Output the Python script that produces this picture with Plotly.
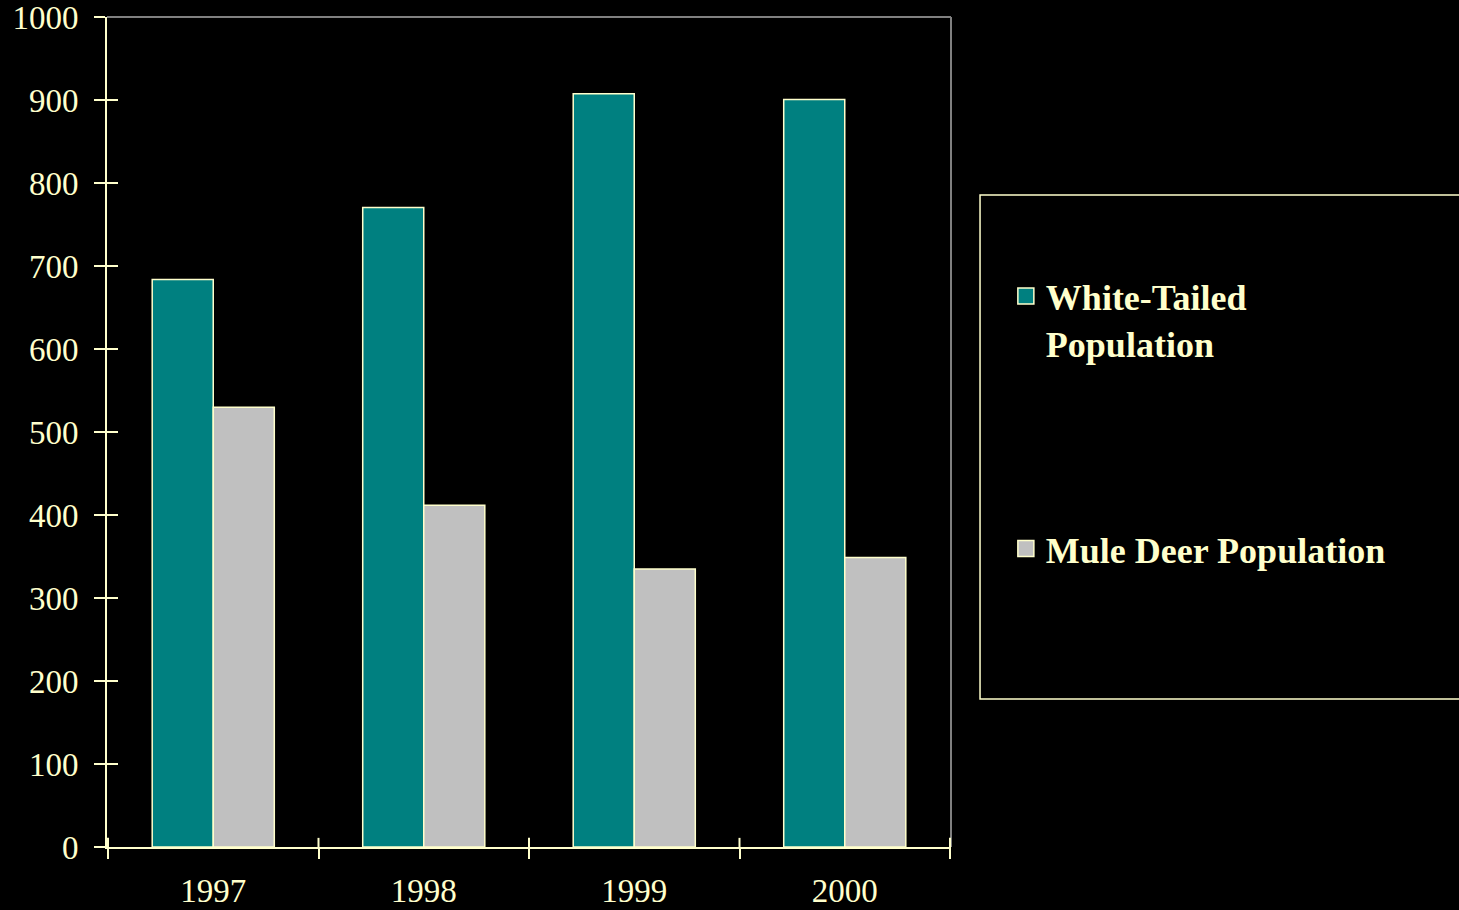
import plotly.graph_objects as go

years = ["1997", "1998", "1999", "2000"]
white_tailed = [684, 771, 908, 901]
mule_deer = [530, 412, 335, 349]
y_ticks = [0, 100, 200, 300, 400, 500, 600, 700, 800, 900, 1000]

CREAM = "#FFFFCC"
TEAL = "#008080"
SILVER = "#C0C0C0"
FONT = "Liberation Serif, Times New Roman, serif"

fig = go.Figure()
fig.add_trace(go.Bar(x=years, y=white_tailed, name="White-Tailed Population",
                     marker=dict(color=TEAL, line=dict(color=CREAM, width=1.5)),
                     legendgroup="a", showlegend=False))
fig.add_trace(go.Bar(x=years, y=mule_deer, name="Mule Deer Population",
                     marker=dict(color=SILVER, line=dict(color=CREAM, width=1.5)),
                     legendgroup="b", showlegend=False))
# legend entries (large square swatches)
fig.add_trace(go.Scatter(x=[None], y=[None], mode="markers", name="White-Tailed<br>Population",
                         marker=dict(symbol="square", size=22, color=TEAL, line=dict(color=CREAM, width=1.5)),
                         legendgroup="a"))
fig.add_trace(go.Scatter(x=[None], y=[None], mode="markers", name="Mule Deer Population",
                         marker=dict(symbol="square", size=22, color=SILVER, line=dict(color=CREAM, width=1.5)),
                         legendgroup="b"))
# invisible trace for inner tick marks on y axis
fig.add_trace(go.Scatter(x=[None], y=[None], yaxis="y2", showlegend=False))

fig.update_layout(
    width=1459, height=910,
    paper_bgcolor="black", plot_bgcolor="black",
    margin=dict(l=107, r=508, t=17, b=63, autoexpand=False),
    barmode="group", bargap=0.42, bargroupgap=0,
    font=dict(family=FONT, color=CREAM, size=33),
    xaxis=dict(
        type="category", showgrid=False, zeroline=False, automargin=False,
        showline=True, linecolor=CREAM, linewidth=2,
        ticks="outside", tickson="boundaries", ticklen=10, tickwidth=2, tickcolor=CREAM,
        tickfont=dict(family=FONT, color=CREAM, size=33),
        ticklabelstandoff=13,
    ),
    yaxis=dict(
        range=[0, 1000.5], tickvals=y_ticks, showgrid=False, zeroline=False, automargin=False,
        showline=True, linecolor=CREAM, linewidth=2,
        ticks="outside", ticklen=11, tickwidth=2, tickcolor=CREAM,
        tickfont=dict(family=FONT, color=CREAM, size=33),
        ticklabelstandoff=9, ticklabeloverflow="allow",
    ),
    yaxis2=dict(
        overlaying="y", side="left", range=[0, 1000.5], tickvals=y_ticks,
        showgrid=False, zeroline=False, showline=False, automargin=False,
        ticks="inside", ticklen=11, tickwidth=2, tickcolor=CREAM,
        showticklabels=False,
    ),
    legend=dict(
        x=1.065, y=0.70, xanchor="left", yanchor="top",
        bgcolor="rgba(0,0,0,0)", borderwidth=0,
        font=dict(family=FONT, color=CREAM, size=36, weight="bold"),
        tracegroupgap=156, traceorder="grouped", valign="top",
        itemsizing="trace",
    ),
    showlegend=True,
)

# gray top/right frame of plot area
fig.add_shape(type="line", xref="paper", yref="paper", x0=0, x1=1, y0=1, y1=1,
              line=dict(color="#808080", width=2))
fig.add_shape(type="line", xref="paper", yref="paper", x0=1, x1=1, y0=0, y1=1,
              line=dict(color="#808080", width=2))
# inner x tick marks (crossing ticks)
for xb in [-0.5, 0.5, 1.5, 2.5, 3.5]:
    fig.add_shape(type="line", xref="x", yref="paper", x0=xb, x1=xb, y0=0, y1=0.011,
                  line=dict(color=CREAM, width=2))
# legend box
fig.add_shape(type="rect", xref="paper", yref="paper", x0=1.0344, x1=1.62,
              y0=0.1783, y1=0.7855, line=dict(color=CREAM, width=1.5))

fig.write_html(
    "out.html",
    config={"displayModeBar": False},
    post_script="document.body.style.margin='0';document.body.style.background='black';",
)
